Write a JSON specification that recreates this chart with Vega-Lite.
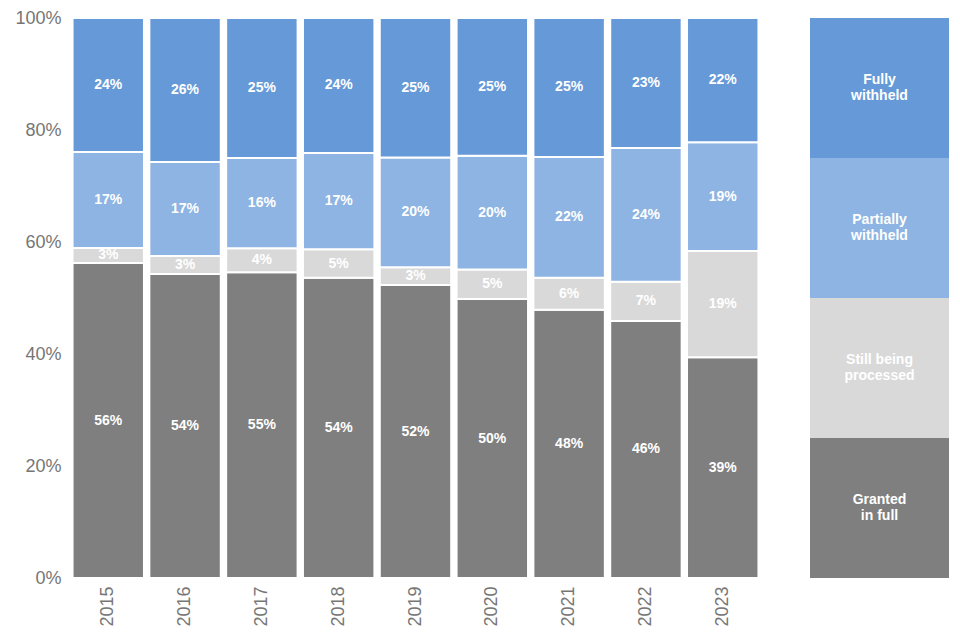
{
  "$schema": "https://vega.github.io/schema/vega-lite/v6.json",
  "padding": {"left": 14, "top": 9, "right": 9, "bottom": 5},
  "background": "white",
  "config": {"view": {"stroke": null}, "font": "Liberation Sans"},
  "spacing": 50,
  "hconcat": [
    {
      "width": 689,
      "height": 560,
      "data": {"values": [
        {"year": "2015", "cat": "Granted in full", "ord": 1, "value": 0.5625},
        {"year": "2015", "cat": "Still being processed", "ord": 2, "value": 0.027},
        {"year": "2015", "cat": "Partially withheld", "ord": 3, "value": 0.171},
        {"year": "2015", "cat": "Fully withheld", "ord": 4, "value": 0.2395},
        {"year": "2016", "cat": "Granted in full", "ord": 1, "value": 0.543},
        {"year": "2016", "cat": "Still being processed", "ord": 2, "value": 0.032},
        {"year": "2016", "cat": "Partially withheld", "ord": 3, "value": 0.168},
        {"year": "2016", "cat": "Fully withheld", "ord": 4, "value": 0.257},
        {"year": "2017", "cat": "Granted in full", "ord": 1, "value": 0.546},
        {"year": "2017", "cat": "Still being processed", "ord": 2, "value": 0.043},
        {"year": "2017", "cat": "Partially withheld", "ord": 3, "value": 0.161},
        {"year": "2017", "cat": "Fully withheld", "ord": 4, "value": 0.25},
        {"year": "2018", "cat": "Granted in full", "ord": 1, "value": 0.536},
        {"year": "2018", "cat": "Still being processed", "ord": 2, "value": 0.051},
        {"year": "2018", "cat": "Partially withheld", "ord": 3, "value": 0.172},
        {"year": "2018", "cat": "Fully withheld", "ord": 4, "value": 0.241},
        {"year": "2019", "cat": "Granted in full", "ord": 1, "value": 0.523},
        {"year": "2019", "cat": "Still being processed", "ord": 2, "value": 0.032},
        {"year": "2019", "cat": "Partially withheld", "ord": 3, "value": 0.196},
        {"year": "2019", "cat": "Fully withheld", "ord": 4, "value": 0.249},
        {"year": "2020", "cat": "Granted in full", "ord": 1, "value": 0.498},
        {"year": "2020", "cat": "Still being processed", "ord": 2, "value": 0.053},
        {"year": "2020", "cat": "Partially withheld", "ord": 3, "value": 0.203},
        {"year": "2020", "cat": "Fully withheld", "ord": 4, "value": 0.246},
        {"year": "2021", "cat": "Granted in full", "ord": 1, "value": 0.479},
        {"year": "2021", "cat": "Still being processed", "ord": 2, "value": 0.057},
        {"year": "2021", "cat": "Partially withheld", "ord": 3, "value": 0.216},
        {"year": "2021", "cat": "Fully withheld", "ord": 4, "value": 0.248},
        {"year": "2022", "cat": "Granted in full", "ord": 1, "value": 0.459},
        {"year": "2022", "cat": "Still being processed", "ord": 2, "value": 0.07},
        {"year": "2022", "cat": "Partially withheld", "ord": 3, "value": 0.239},
        {"year": "2022", "cat": "Fully withheld", "ord": 4, "value": 0.232},
        {"year": "2023", "cat": "Granted in full", "ord": 1, "value": 0.394},
        {"year": "2023", "cat": "Still being processed", "ord": 2, "value": 0.19},
        {"year": "2023", "cat": "Partially withheld", "ord": 3, "value": 0.194},
        {"year": "2023", "cat": "Fully withheld", "ord": 4, "value": 0.222}
      ]},
      "transform": [
        {"stack": "value", "groupby": ["year"], "sort": [{"field": "ord", "order": "ascending"}], "as": ["v0", "v1"]},
        {"calculate": "(datum.v0 + datum.v1) / 2", "as": "mid"}
      ],
      "encoding": {
        "x": {
          "field": "year", "type": "ordinal",
          "scale": {"paddingInner": 0.07, "paddingOuter": 0.02},
          "axis": {"title": null, "labelAngle": -90, "labelFontSize": 18, "labelColor": "#767676", "ticks": false, "domain": false, "labelPadding": 8, "labelFont": "Liberation Sans"}
        }
      },
      "layer": [
        {
          "mark": {"type": "bar", "stroke": "white", "strokeWidth": 2},
          "encoding": {
            "y": {"field": "v0", "type": "quantitative", "scale": {"domain": [0, 1], "nice": false},
              "axis": {"title": null, "format": ".0%", "values": [0, 0.2, 0.4, 0.6, 0.8, 1], "labelFontSize": 18, "labelColor": "#767676", "ticks": false, "domain": false, "grid": false, "labelPadding": 10, "labelFont": "Liberation Sans"}},
            "y2": {"field": "v1"},
            "color": {"field": "cat", "type": "nominal", "legend": null,
              "scale": {"domain": ["Fully withheld", "Partially withheld", "Still being processed", "Granted in full"],
                        "range": ["#6699d8", "#8db4e2", "#d9d9d9", "#7f7f7f"]}}
          }
        },
        {
          "mark": {"type": "text", "color": "white", "fontWeight": "bold", "fontSize": 14, "font": "Liberation Sans", "baseline": "middle"},
          "encoding": {
            "y": {"field": "mid", "type": "quantitative"},
            "text": {"field": "value", "type": "quantitative", "format": ".0%"}
          }
        }
      ]
    },
    {
      "width": 139,
      "height": 560,
      "data": {"values": [
        {"cat": "Granted in full", "label": "Granted\nin full", "ord": 1, "value": 0.25},
        {"cat": "Still being processed", "label": "Still being\nprocessed", "ord": 2, "value": 0.25},
        {"cat": "Partially withheld", "label": "Partially\nwithheld", "ord": 3, "value": 0.25},
        {"cat": "Fully withheld", "label": "Fully\nwithheld", "ord": 4, "value": 0.25}
      ]},
      "transform": [
        {"stack": "value", "groupby": [], "sort": [{"field": "ord", "order": "ascending"}], "as": ["v0", "v1"]},
        {"calculate": "(datum.v0 + datum.v1) / 2", "as": "mid"}
      ],
      "encoding": {
        "x": {"datum": "legend", "type": "nominal", "scale": {"paddingInner": 0, "paddingOuter": 0}, "axis": null}
      },
      "layer": [
        {
          "mark": {"type": "bar"},
          "encoding": {
            "y": {"field": "v0", "type": "quantitative", "scale": {"domain": [0, 1], "nice": false}, "axis": null},
            "y2": {"field": "v1"},
            "color": {"field": "cat", "type": "nominal", "legend": null,
              "scale": {"domain": ["Fully withheld", "Partially withheld", "Still being processed", "Granted in full"],
                        "range": ["#6699d8", "#8db4e2", "#d9d9d9", "#7f7f7f"]}}
          }
        },
        {
          "mark": {"type": "text", "color": "white", "fontWeight": "bold", "fontSize": 14, "font": "Liberation Sans", "baseline": "middle", "lineBreak": "\n", "lineHeight": 16, "dy": -8},
          "encoding": {
            "y": {"field": "mid", "type": "quantitative"},
            "text": {"field": "label", "type": "nominal"}
          }
        }
      ]
    }
  ]
}
